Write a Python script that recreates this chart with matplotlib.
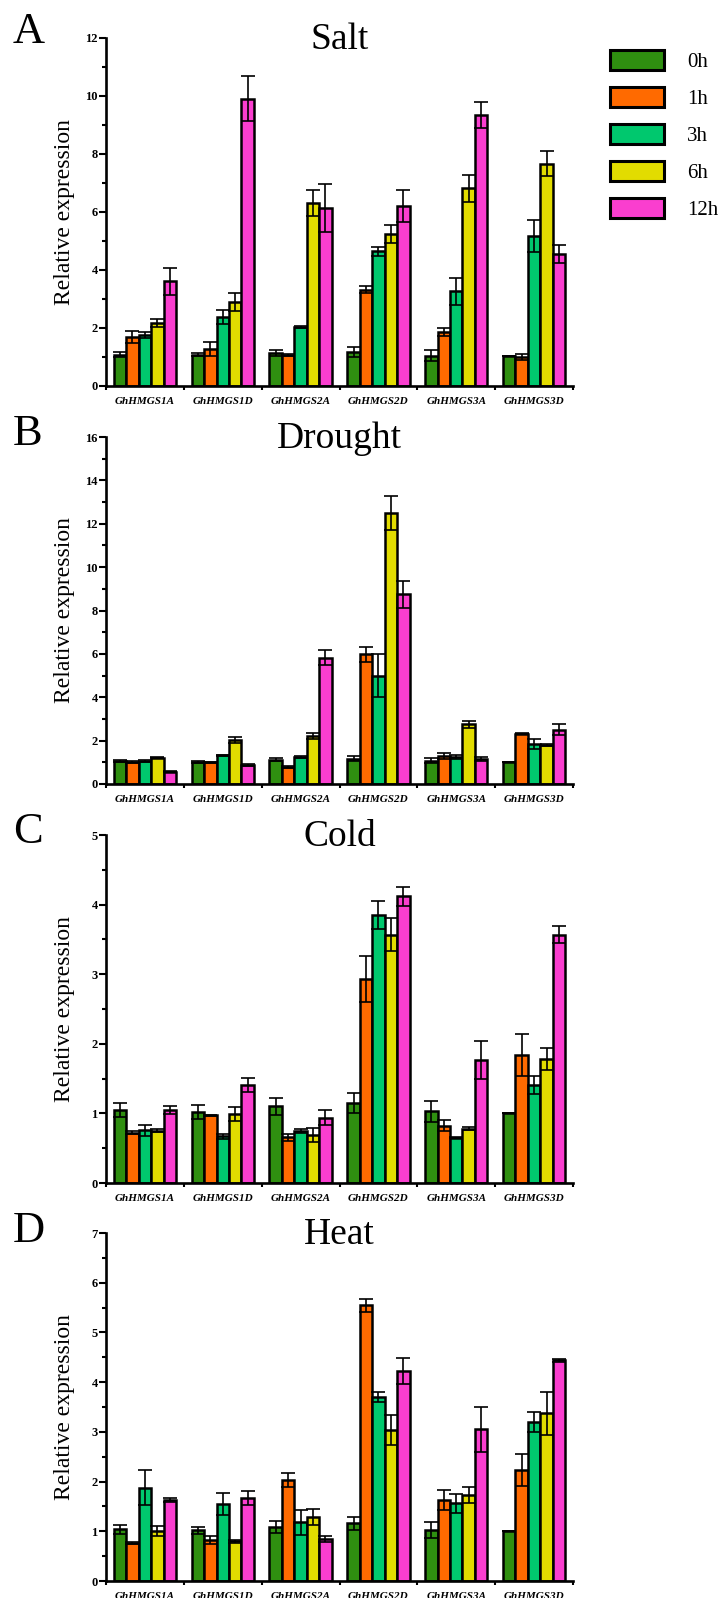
import numpy as np
import matplotlib.pyplot as plt
from matplotlib.patches import Patch
from matplotlib.ticker import MultipleLocator

plt.rcParams['font.family'] = ['Liberation Serif', 'DejaVu Serif']

genes = ['GhHMGS1A', 'GhHMGS1D', 'GhHMGS2A', 'GhHMGS2D', 'GhHMGS3A', 'GhHMGS3D']
times = ['0h', '1h', '3h', '6h', '12h']
colors = ['#2f8f10', '#ff6a00', '#00c86e', '#e2dc00', '#fa3ecf']

# one row per gene, one column per time point
salt = [[1.08, 1.69, 1.75, 2.17, 3.61],
        [1.08, 1.28, 2.37, 2.89, 9.91],
        [1.14, 1.07, 2.04, 6.31, 6.14],
        [1.17, 3.32, 4.64, 5.24, 6.20],
        [1.05, 1.86, 3.26, 6.82, 9.33],
        [1.02, 1.01, 5.18, 7.66, 4.55]]
salt_sd = [[0.08, 0.19, 0.10, 0.15, 0.46],
           [0.05, 0.24, 0.24, 0.32, 0.77],
           [0.09, 0.03, 0.04, 0.46, 0.84],
           [0.16, 0.12, 0.17, 0.31, 0.55],
           [0.18, 0.14, 0.48, 0.47, 0.45],
           [0.00, 0.10, 0.55, 0.43, 0.32]]

drought = [[1.05, 1.02, 1.05, 1.22, 0.57],
           [1.02, 1.00, 1.32, 2.04, 0.88],
           [1.12, 0.78, 1.25, 2.21, 5.82],
           [1.17, 5.98, 4.99, 12.50, 8.74],
           [1.08, 1.30, 1.25, 2.75, 1.15],
           [1.00, 2.32, 1.83, 1.78, 2.50]]
drought_sd = [[0.05, 0.03, 0.04, 0.04, 0.02],
              [0.04, 0.03, 0.04, 0.15, 0.03],
              [0.06, 0.05, 0.05, 0.14, 0.34],
              [0.12, 0.34, 0.99, 0.80, 0.63],
              [0.10, 0.15, 0.10, 0.15, 0.08],
              [0.00, 0.02, 0.23, 0.05, 0.26]]

cold = [[1.05, 0.72, 0.76, 0.75, 1.05],
        [1.02, 0.97, 0.67, 0.99, 1.41],
        [1.10, 0.66, 0.75, 0.69, 0.94],
        [1.15, 2.93, 3.85, 3.57, 4.12],
        [1.03, 0.82, 0.65, 0.78, 1.77],
        [1.01, 1.84, 1.41, 1.78, 3.57]]
cold_sd = [[0.10, 0.02, 0.08, 0.02, 0.06],
           [0.10, 0.01, 0.04, 0.10, 0.10],
           [0.12, 0.05, 0.03, 0.10, 0.11],
           [0.14, 0.33, 0.20, 0.24, 0.14],
           [0.15, 0.08, 0.01, 0.02, 0.27],
           [0.00, 0.30, 0.13, 0.16, 0.12]]

heat = [[1.04, 0.77, 1.88, 1.00, 1.62],
        [1.02, 0.82, 1.55, 0.80, 1.67],
        [1.09, 2.04, 1.18, 1.29, 0.84],
        [1.16, 5.55, 3.70, 3.03, 4.23],
        [1.03, 1.63, 1.56, 1.73, 3.05],
        [1.00, 2.23, 3.20, 3.37, 4.44]]
heat_sd = [[0.09, 0.02, 0.35, 0.10, 0.04],
           [0.07, 0.08, 0.23, 0.03, 0.15],
           [0.12, 0.14, 0.25, 0.16, 0.06],
           [0.13, 0.13, 0.10, 0.30, 0.26],
           [0.16, 0.21, 0.19, 0.17, 0.45],
           [0.00, 0.32, 0.20, 0.43, 0.03]]

panels = [('A', 'Salt', salt, salt_sd, 12, 2),
          ('B', 'Drought', drought, drought_sd, 16, 2),
          ('C', 'Cold', cold, cold_sd, 5, 1),
          ('D', 'Heat', heat, heat_sd, 7, 1)]

W, H = 726, 1598
fig = plt.figure(figsize=(W / 100, H / 100), dpi=100)

# pixel layout of the four panels: (top, bottom, letter baseline)
boxes = [(38, 386, 43), (437, 784, 445), (835, 1183, 843), (1233, 1581, 1242)]
left, right = 106, 573

x = np.arange(len(genes))
w = 0.16

for (letter, title, vals, sds, ymax, step), (top, bot, lb) in zip(panels, boxes):
    ax = fig.add_axes([left / W, 1 - bot / H, (right - left) / W, (bot - top) / H])
    vals = np.array(vals)
    sds = np.array(sds)
    for j in range(len(times)):
        ax.bar(x + (j - 2) * w, vals[:, j], w, color=colors[j], edgecolor='black',
               linewidth=1.8, yerr=sds[:, j],
               error_kw=dict(ecolor='black', elinewidth=1.2, capsize=5, capthick=1.2))

    ax.set_xlim(-0.5, len(genes) - 0.5)
    ax.set_ylim(0, ymax)
    for s in ['top', 'right']:
        ax.spines[s].set_visible(False)
    for s in ['left', 'bottom']:
        ax.spines[s].set_linewidth(1.9)

    ax.yaxis.set_major_locator(MultipleLocator(step))
    ax.yaxis.set_minor_locator(MultipleLocator(step / 2))
    ax.tick_params(axis='y', which='major', length=5, width=1.5, pad=1, labelsize=9)
    ax.tick_params(axis='y', which='minor', length=3, width=1.5)
    for t in ax.get_yticklabels():
        t.set_fontweight('bold')

    ax.set_xticks(np.arange(-0.5, len(genes)))
    ax.set_xticklabels([])
    ax.set_xticks(x, minor=True)
    ax.set_xticklabels(genes, minor=True, fontstyle='italic', fontweight='bold', fontsize=8)
    ax.tick_params(axis='x', which='major', length=3, width=1.5)
    ax.tick_params(axis='x', which='minor', length=0, pad=8)

    ax.set_ylabel('Relative expression', fontsize=17)
    ax.yaxis.set_label_coords(-0.066, 0.5)

    ax.text(0.5, 1 - 11 / (bot - top), title, transform=ax.transAxes,
            ha='center', va='baseline', fontsize=27)
    fig.text(13 / W, 1 - lb / H, letter, fontsize=32, va='baseline', ha='left')

handles = [Patch(facecolor=c, edgecolor='black', linewidth=2.2) for c in colors]
fig.legend(handles, times, loc='upper left', bbox_to_anchor=(610 / W, 1 - 50 / H),
           frameon=False, fontsize=15, handlelength=2.6, handleheight=1.1,
           labelspacing=0.72, handletextpad=1.1, borderpad=0, borderaxespad=0)

fig.savefig('out.png', dpi=100)
